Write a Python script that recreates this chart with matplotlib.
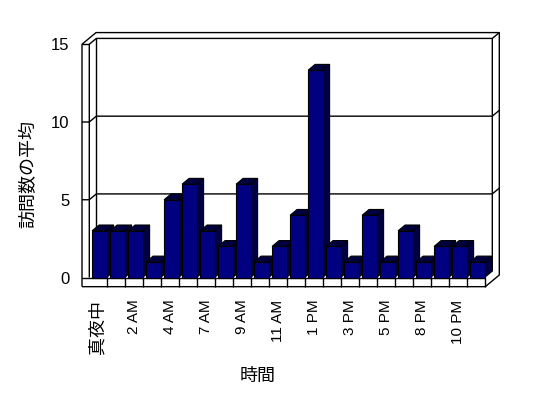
import matplotlib
matplotlib.use('Agg')
import matplotlib.pyplot as plt
from matplotlib.patches import Polygon

# data
hours = ['真夜中', '1 AM', '2 AM', '3 AM', '4 AM', '5 AM', '7 AM', '8 AM', '9 AM', '10 AM', '11 AM',
         '12 PM', '1 PM', '2 PM', '3 PM', '4 PM', '5 PM', '6 PM', '8 PM', '9 PM', '10 PM', '11 PM']
visits = [3, 3, 3, 1, 5, 6, 3, 2, 6, 1, 2, 4, 13.33, 2, 1, 4, 1, 3, 1, 2, 2, 1]
yticks = [0, 5, 10, 15]

plt.rcParams['font.family'] = ['Liberation Sans', 'Noto Sans CJK JP']

fig = plt.figure(figsize=(5.48, 3.98), dpi=100)
ax = fig.add_axes([89.3 / 548, 120.5 / 398, 396 / 548, 233.25 / 398])
n = len(visits)
ax.set_xlim(-0.5, n - 0.5)
ax.set_ylim(yticks[0], yticks[-1])
ax.patch.set_visible(False)
for s in ax.spines.values():
    s.set_visible(False)

# fake 3d geometry (data units)
dx, dy = 0.389, 0.375   # depth offset
t = 0.405               # left wall thickness
fb = -0.59              # floor front bottom
x0, x1 = -0.5, n - 0.5
top = yticks[-1]


def line(xs, ys):
    ax.plot(xs, ys, color='black', lw=1.0, clip_on=False, zorder=1, solid_capstyle='butt')


# outer outline of walls + floor
line([x0 - t, x0 - t, x0 - t + 2 * dx, x1 + 2 * dx, x1 + 2 * dx, x1, x0 - t],
     [fb, top, top + 2 * dy, top + 2 * dy, fb + 2 * dy, fb, fb])
# inner wall faces
line([x0, x0, x0 + dx, x1 + dx, x1 + dx], [0, top, top + dy, top + dy, dy])
line([x0 + dx, x0 + dx], [dy, top + dy])
line([x0 - t, x0], [top, top])
line([x1 + dx, x1 + 2 * dx], [top + dy, top + 2 * dy])
# gridlines
for v in yticks[1:-1]:
    line([x0 - t, x0, x0 + dx, x1 + dx, x1 + 2 * dx], [v, v, v + dy, v + dy, v + 2 * dy])
# floor front face
line([x0 - t, x1, x1], [0, 0, fb])
for k in range(1, n):
    line([k - 0.5, k - 0.5], [fb, 0])

# bars
bars = ax.bar([i - 0.345 for i in range(n)], visits, width=0.806, align='edge',
              color='#000080', edgecolor='black', linewidth=0.8, clip_on=False)
for i, b in enumerate(bars):
    l, r, h = b.get_x(), b.get_x() + b.get_width(), b.get_height()
    side = Polygon([(r, 0), (r + dx, dy), (r + dx, h + dy), (r, h)])
    cap = Polygon([(l, h), (l + dx, h + dy), (r + dx, h + dy), (r, h)])
    for p in (side, cap):
        p.set_facecolor('#000040')
        p.set_edgecolor('black')
        p.set_linewidth(0.8)
        p.set_clip_on(False)
        p.set_zorder(2 + 2 * i)
        ax.add_patch(p)
    b.set_zorder(3 + 2 * i)

# ticks and labels
ax.set_xticks(range(0, n, 2))
ax.set_xticklabels(hours[::2], rotation=90, va='top', ha='center', fontsize=11)
ax.get_xticklabels()[0].set_fontsize(13)
ax.tick_params(axis='x', length=0, pad=16)
ax.set_yticks(yticks)
ax.tick_params(axis='y', length=0, pad=14.3, labelsize=12)

ax.set_ylabel('訪問数の平均', fontsize=13)
ax.yaxis.set_label_coords(-0.13, 0.444)
ax.set_xlabel('時間', fontsize=13)
ax.xaxis.set_label_coords(0.426, -0.39)

fig.savefig('out.png', dpi=100)
